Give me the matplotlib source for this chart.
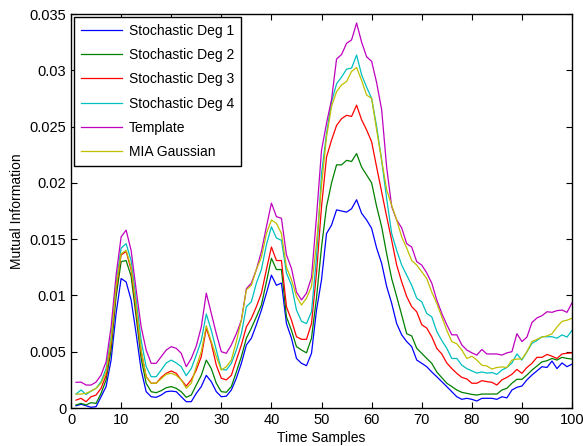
import numpy as np
import matplotlib
matplotlib.use("Agg")
import matplotlib.pyplot as plt
from matplotlib.ticker import FuncFormatter

plt.rcParams['font.family'] = ['Liberation Sans', 'DejaVu Sans']

## time sample index 1..100
samples = np.arange(1, 101)

## values, in units of 1e-3
deg1 = [0.20, 0.33, 0.20, 0.06, 0.12, 1.00, 1.90, 4.26, 8.40, 11.5,
        11.2, 9.60, 6.60, 3.37, 1.45, 1.00, 0.95, 1.15, 1.45, 1.50,
        1.45, 1.00, 0.56, 0.56, 1.30, 1.90, 2.90, 2.34, 1.45, 1.00,
        1.05, 1.60, 2.64, 3.97, 5.60, 6.20, 7.40, 8.70, 10.2, 11.8,
        10.9, 11.1, 7.50, 6.20, 4.40, 3.97, 3.76, 4.86, 8.70, 11.4,
        15.5, 16.25, 17.6, 17.5, 17.4, 17.7, 18.5, 17.3, 16.7, 15.96,
        14.2, 12.85, 10.8, 9.30, 7.50, 6.50, 5.90, 5.45, 4.26, 3.97,
        3.67, 3.20, 2.78, 2.34, 1.90, 1.45, 1.00, 0.77, 0.86, 0.77,
        0.62, 0.86, 0.86, 0.86, 0.77, 1.00, 0.90, 1.60, 1.84, 1.95,
        2.50, 2.93, 3.30, 3.67, 3.60, 4.17, 3.50, 4.00, 3.67, 3.90]

deg2 = [0.27, 0.41, 0.27, 0.47, 0.41, 1.30, 2.50, 5.15, 9.90, 13.0,
        13.1, 11.7, 8.10, 4.40, 2.20, 1.45, 1.36, 1.54, 1.80, 1.90,
        1.75, 1.45, 0.95, 1.15, 2.04, 2.90, 4.26, 3.50, 2.20, 1.45,
        1.40, 1.90, 3.20, 4.56, 6.20, 7.10, 8.10, 9.15, 11.2, 13.3,
        12.3, 12.3, 8.10, 6.90, 5.45, 5.15, 4.90, 6.20, 9.80, 14.3,
        17.9, 20.0, 21.6, 21.6, 22.0, 21.9, 22.6, 21.4, 20.7, 20.0,
        17.9, 16.1, 13.7, 11.5, 9.90, 8.26, 6.60, 6.40, 5.30, 4.86,
        4.40, 3.97, 3.20, 2.70, 2.20, 1.90, 1.60, 1.39, 1.30, 1.21,
        1.15, 1.24, 1.24, 1.24, 1.24, 1.60, 1.75, 2.20, 2.55, 2.55,
        2.93, 3.37, 3.73, 4.10, 4.20, 4.40, 4.26, 4.50, 4.40, 4.35]

deg3 = [0.70, 0.86, 0.56, 1.00, 1.15, 1.75, 2.90, 5.74, 10.5, 13.6,
        13.9, 12.3, 8.70, 5.00, 2.78, 2.20, 2.20, 2.72, 3.08, 3.29,
        3.08, 2.50, 1.95, 2.50, 3.37, 4.56, 7.10, 5.74, 3.80, 2.64,
        2.50, 2.90, 4.26, 5.60, 7.20, 7.97, 9.00, 10.2, 12.3, 14.3,
        13.1, 13.1, 9.00, 7.80, 6.33, 6.10, 6.10, 7.50, 12.0, 17.9,
        22.3, 23.8, 25.1, 25.7, 26.0, 25.9, 26.9, 25.6, 24.7, 23.65,
        21.4, 19.2, 17.0, 14.9, 12.7, 11.2, 9.90, 9.00, 8.55, 7.40,
        7.10, 6.33, 5.30, 4.80, 4.00, 3.50, 3.08, 2.72, 2.58, 2.20,
        2.20, 2.43, 2.34, 2.28, 2.04, 2.50, 2.72, 3.00, 3.43, 3.08,
        3.60, 3.97, 4.50, 4.50, 4.76, 4.60, 4.40, 4.80, 4.86, 4.90]

deg4 = [1.24, 1.60, 1.20, 1.50, 1.75, 2.34, 3.50, 6.30, 11.1, 14.2,
        14.6, 13.1, 9.60, 6.00, 3.67, 2.78, 2.78, 3.37, 4.00, 4.26,
        4.00, 3.67, 2.87, 3.50, 4.70, 6.00, 8.35, 6.90, 5.15, 3.43,
        3.37, 3.97, 5.15, 6.60, 9.00, 9.44, 11.1, 12.3, 14.5, 16.1,
        15.1, 14.9, 12.0, 10.9, 8.70, 7.70, 7.50, 8.55, 13.4, 20.8,
        24.4, 27.2, 28.8, 29.4, 30.1, 30.2, 31.35, 29.6, 28.5, 27.5,
        25.0, 22.0, 18.6, 15.5, 14.0, 12.7, 11.8, 10.9, 9.75, 9.44,
        8.40, 8.10, 6.80, 6.00, 5.30, 4.40, 4.40, 3.80, 3.50, 3.30,
        3.10, 3.20, 3.10, 3.15, 2.99, 3.37, 3.60, 4.00, 4.80, 4.26,
        5.00, 5.74, 6.00, 6.33, 6.33, 6.33, 6.20, 6.50, 6.30, 6.90]

template = [2.28, 2.30, 2.04, 2.04, 2.30, 2.93, 4.10, 7.20, 11.8, 15.2,
            15.8, 14.0, 10.5, 7.20, 5.15, 3.97, 3.97, 4.56, 5.15, 5.45,
            5.30, 4.86, 3.67, 4.40, 5.50, 7.20, 10.2, 8.40, 6.60, 5.00,
            4.86, 5.60, 6.60, 7.80, 10.6, 11.1, 12.3, 13.9, 16.1, 18.2,
            17.0, 16.85, 13.6, 12.4, 10.3, 9.60, 10.2, 11.6, 17.0, 22.9,
            25.3, 27.4, 31.0, 31.4, 32.4, 32.7, 34.2, 32.5, 31.2, 30.8,
            28.9, 26.5, 21.4, 17.9, 16.7, 16.0, 14.6, 14.3, 13.0, 12.7,
            12.0, 11.1, 9.60, 8.40, 7.40, 6.50, 6.50, 5.60, 5.15, 4.90,
            4.70, 5.20, 4.80, 4.80, 4.80, 4.70, 4.90, 5.00, 6.60, 5.90,
            6.30, 7.60, 8.00, 8.20, 8.55, 8.50, 8.65, 8.70, 8.50, 9.35]

mia = [1.24, 1.24, 1.30, 1.50, 1.75, 2.20, 3.20, 6.00, 10.8, 13.7,
       14.0, 12.5, 9.00, 5.15, 2.78, 2.20, 2.20, 2.60, 3.00, 3.08,
       2.90, 2.50, 1.75, 2.20, 3.67, 5.00, 7.30, 5.90, 4.56, 3.37,
       3.67, 4.26, 5.90, 7.80, 10.5, 10.9, 12.3, 13.4, 15.5, 16.7,
       16.4, 15.5, 12.5, 11.4, 9.90, 9.15, 9.75, 10.8, 14.6, 19.8,
       24.1, 26.8, 28.1, 28.7, 29.0, 29.9, 30.25, 29.1, 27.8, 27.5,
       24.7, 22.0, 19.4, 18.0, 16.7, 15.2, 14.2, 13.1, 12.7, 12.1,
       11.5, 10.3, 9.30, 8.10, 6.90, 5.90, 5.70, 5.15, 4.40, 4.60,
       4.26, 3.80, 3.73, 3.46, 3.60, 3.65, 3.60, 4.26, 4.35, 4.35,
       5.00, 5.90, 6.10, 6.30, 6.40, 6.60, 7.20, 7.70, 7.80, 7.97]

series = [
    (deg1, "Stochastic Deg 1", (0, 0, 1)),
    (deg2, "Stochastic Deg 2", (0, 0.5, 0)),
    (deg3, "Stochastic Deg 3", (1, 0, 0)),
    (deg4, "Stochastic Deg 4", (0, 0.75, 0.75)),
    (template, "Template", (0.75, 0, 0.75)),
    (mia, "MIA Gaussian", (0.75, 0.75, 0)),
]

fig = plt.figure(figsize=(5.83, 4.46), dpi=100)
ax = fig.add_axes([0.1218, 0.0852, 0.8594, 0.8834])

for vals, name, col in series:
    ax.plot(samples, np.array(vals) * 1e-3, color=col, linewidth=0.9, label=name)

ax.set_xlim(0, 100)
ax.set_ylim(0, 0.035)
ax.set_xticks(np.arange(0, 101, 10))
ax.set_yticks(np.arange(0, 0.0351, 0.005))
ax.yaxis.set_major_formatter(FuncFormatter(lambda v, p: "%g" % round(v, 4)))
ax.tick_params(direction='in', top=True, right=True, labelsize=10.5, length=4, width=0.8)
for sp in ax.spines.values():
    sp.set_linewidth(1.0)

ax.set_xlabel("Time Samples", fontsize=10, labelpad=3)
ax.set_ylabel("Mutual Information", fontsize=10, labelpad=4)

leg = ax.legend(loc='upper left', fontsize=10, handlelength=3.0, handletextpad=0.45,
                fancybox=False, framealpha=1, edgecolor='black', borderaxespad=0.2,
                borderpad=0.5, labelspacing=0.74)
leg.get_frame().set_linewidth(1.0)

fig.savefig("out.png", dpi=100)
